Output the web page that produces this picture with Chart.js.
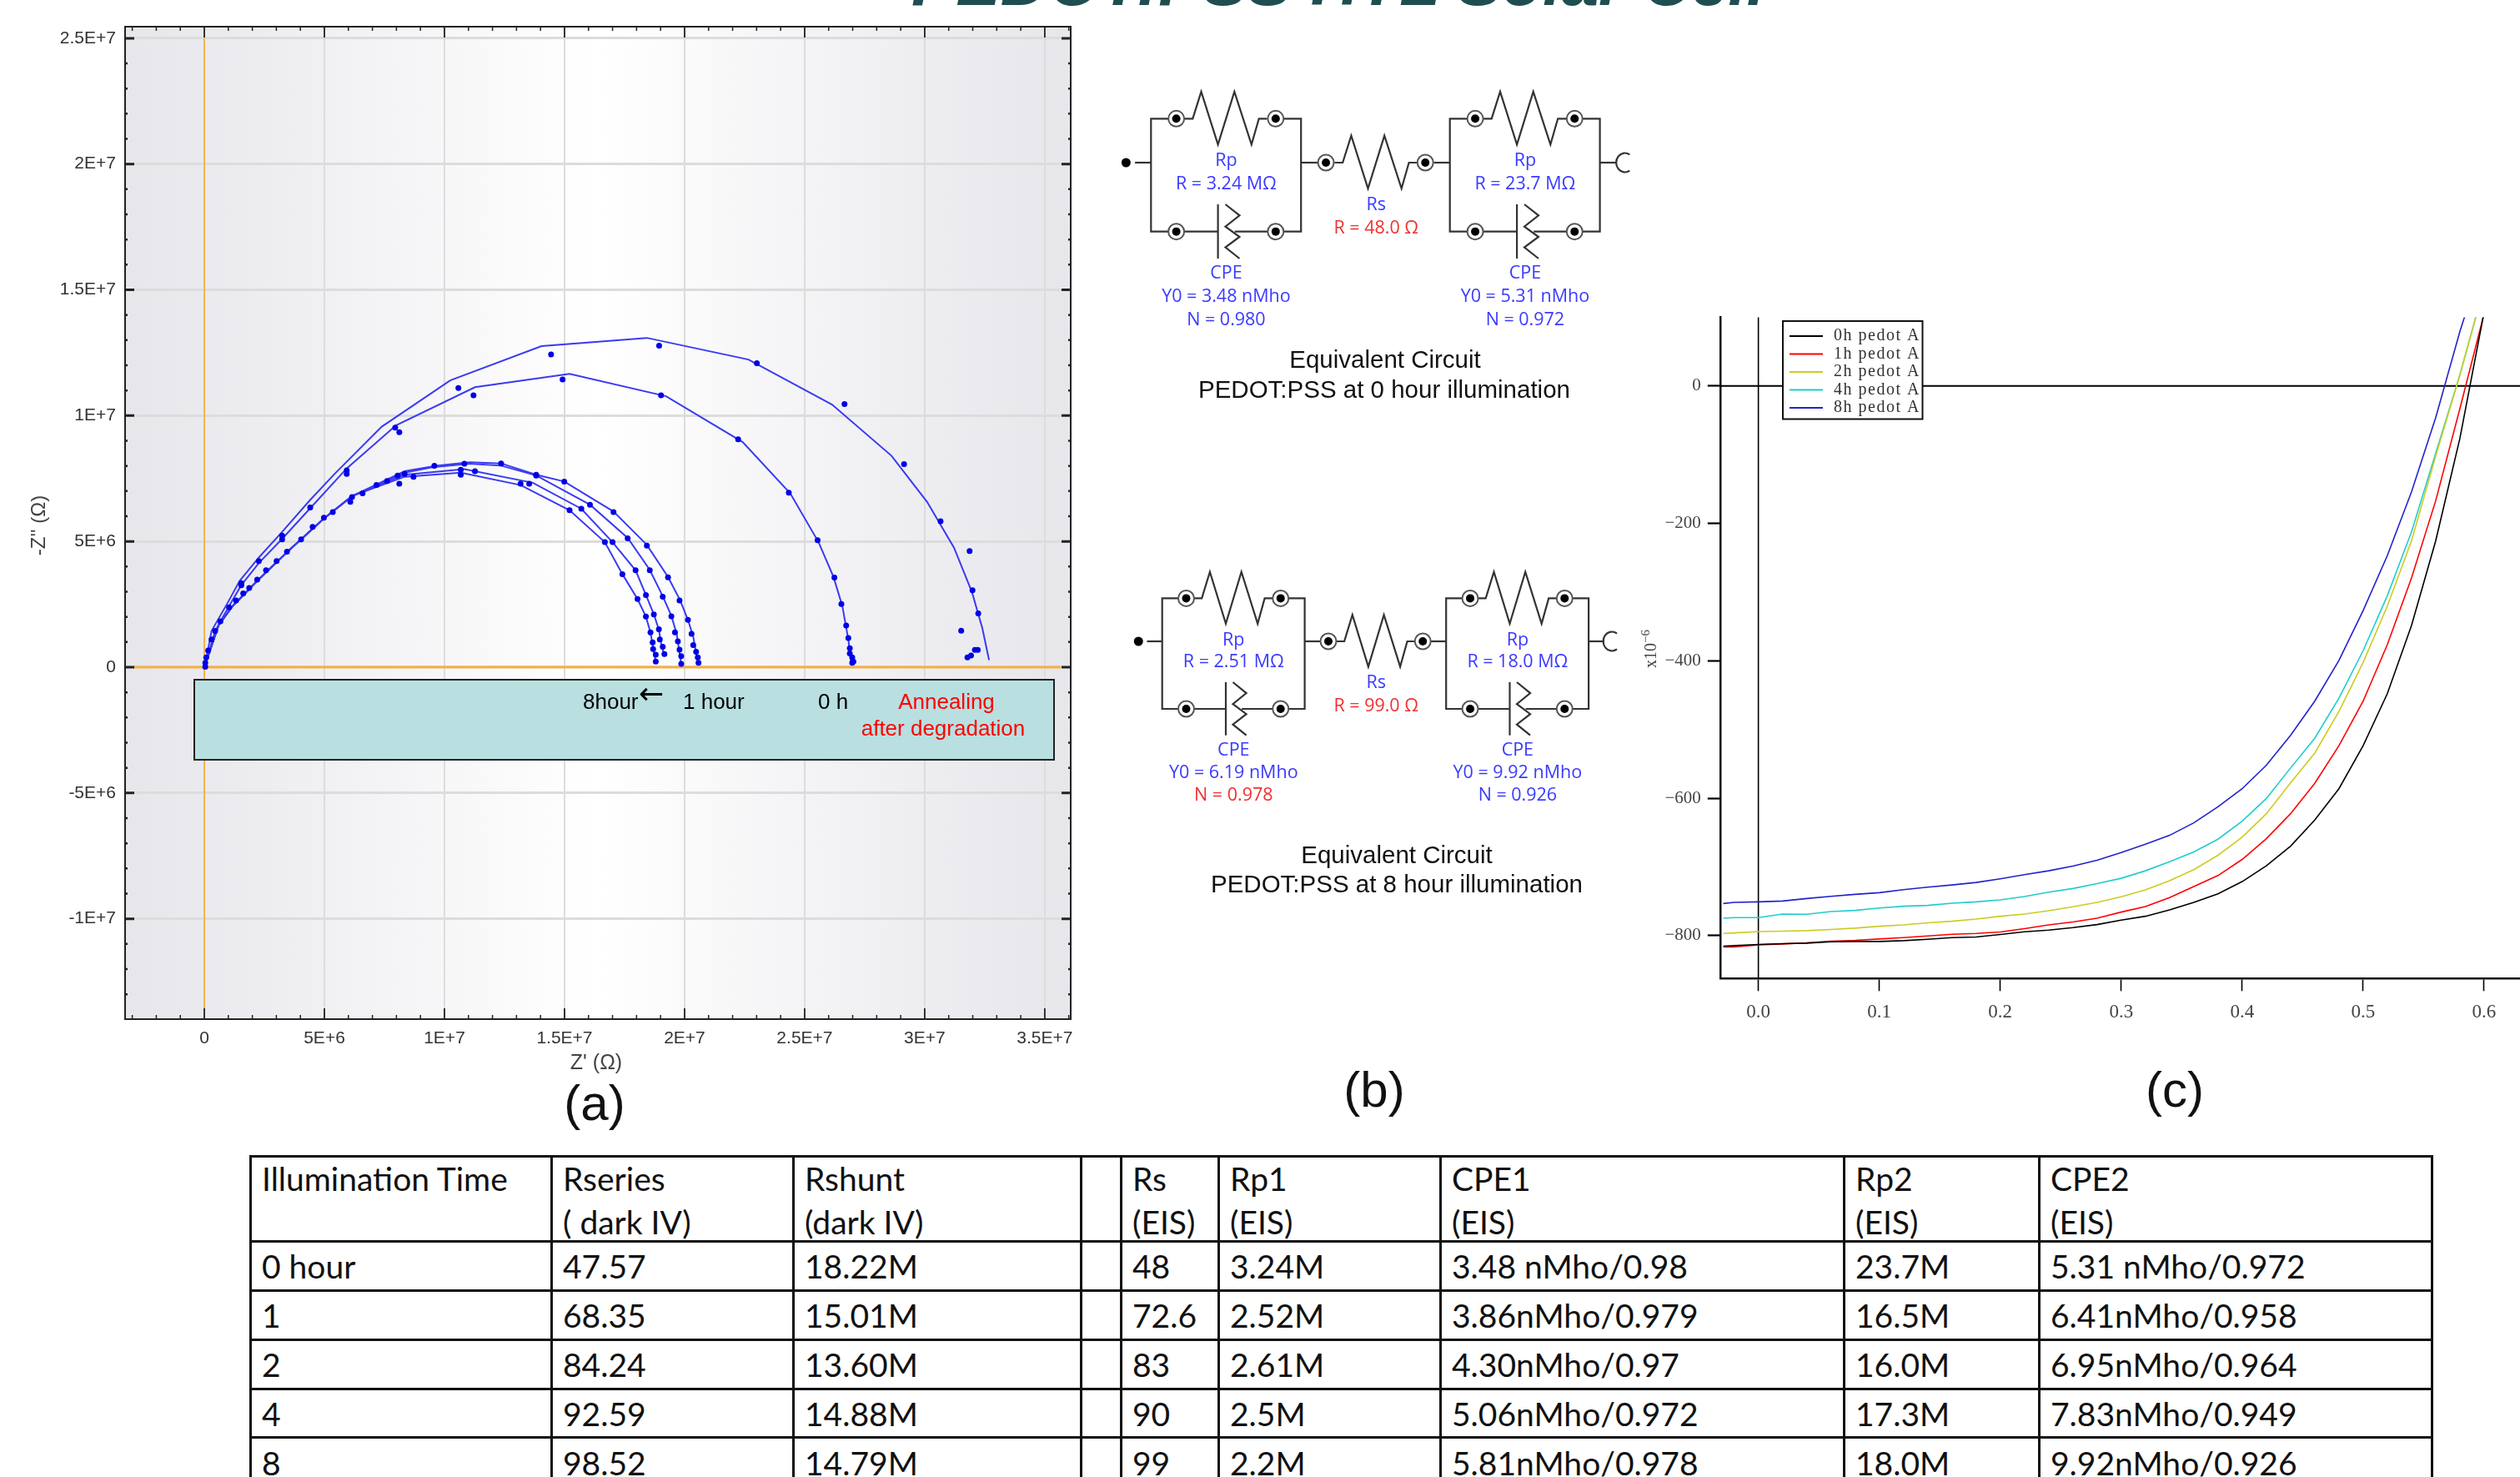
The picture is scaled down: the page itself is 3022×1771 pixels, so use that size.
<!DOCTYPE html>
<html><head><meta charset="utf-8">
<script src="https://cdn.jsdelivr.net/npm/chart.js@4"></script>
<style>
html,body{margin:0;padding:0;background:#fff;}
#page{position:relative;width:3022px;height:1771px;overflow:hidden;background:#fff;font-family:"Liberation Sans",Arial,sans-serif;}
canvas{position:absolute;display:block;}
.abs{position:absolute;white-space:nowrap;}
#title{left:1605px;top:-61px;transform:translateX(-50%);font:italic bold 80px/80px "Liberation Sans";color:#1f4e50;}
.panel{font:60px/64px "Liberation Sans";color:#111;transform:translate(-50%,-50%);}
#box{left:232px;top:814px;width:1029px;height:94px;background:#b9dfe1;border:2px solid #222;}
.boxt{font:26px/30px "Liberation Sans";transform:translateY(-50%);}
.ctr{transform:translate(-50%,-50%);}
#axa{left:715px;top:1273px;font:25px "Liberation Sans";color:#444;}
#aya{left:46px;top:630px;font:24px "Liberation Sans";color:#444;transform:translate(-50%,-50%) rotate(-90deg);}
#cy{left:1979px;top:778px;font:20px "Liberation Serif";color:#444;transform:translate(-50%,-50%) rotate(-90deg);}
#cy sup{font-size:15px;line-height:0;}
#tbl{position:absolute;left:299px;top:1385px;border-collapse:collapse;table-layout:fixed;width:2616px;font:39px/52px Lato;color:#111;}
#tbl td{border:3px solid #111;padding:0 0 0 12px;overflow:hidden;white-space:nowrap;}
#tbl .h{height:98px;margin-top:-3px;line-height:52px;}
svg{position:absolute;left:0;top:0;}
</style></head><body>
<div id="page">
<canvas id="nyquist" width="1320" height="1320" style="left:0;top:0"></canvas>
<canvas id="iv" width="1072" height="880" style="left:1950px;top:360px"></canvas>
<svg id="circ" width="3022" height="1200"></svg>
<div id="title" class="abs">PEDOT:PSS HTL Solar Cell</div>
<div id="box" class="abs"></div>
<div class="abs boxt" style="left:699px;top:841px">8hour</div>
<div class="abs boxt" style="left:766px;top:832px;font:36px/36px 'DejaVu Sans'">←</div>
<div class="abs boxt" style="left:819px;top:841px">1 hour</div>
<div class="abs boxt" style="left:981px;top:841px">0 h</div>
<div class="abs boxt ctr" style="left:1135px;top:841px;color:#f00;transform:translate(-50%,-50%)">Annealing</div>
<div class="abs boxt ctr" style="left:1131px;top:873px;color:#f00;transform:translate(-50%,-50%)">after degradation</div>
<div id="axa" class="abs ctr">Z' (Ω)</div>
<div id="aya" class="abs">-Z'' (Ω)</div>
<div id="cy" class="abs">x10<sup>−6</sup></div>
<div class="abs panel" style="left:713px;top:1323px">(a)</div>
<div class="abs panel" style="left:1648px;top:1307px">(b)</div>
<div class="abs panel" style="left:2608px;top:1307px">(c)</div>
<table id="tbl"></table>
</div>
<script>
// ---------- Panel (a): Nyquist plot, values in units of 1E6 ohm ----------
const zTicksX=[0,5,10,15,20,25,30,35];
const zTickLabelsX=['0','5E+6','1E+7','1.5E+7','2E+7','2.5E+7','3E+7','3.5E+7'];
const zTicksY=[-10,-5,0,5,10,15,20,25];
const zTickLabelsY=['-1E+7','-5E+6','0','5E+6','1E+7','1.5E+7','2E+7','2.5E+7'];

const fitAnnealX=[0.04,0.30,0.96,1.47,2.27,3.22,4.39,5.42,7.39,10.24,14.04,18.43,22.66,26.14,28.62,30.1,31.22,31.97,32.4,32.68];
const fitAnnealY=[0.11,1.44,2.54,3.43,4.36,5.36,6.63,7.68,9.56,11.40,12.76,13.09,12.23,10.44,8.40,6.57,4.75,2.98,1.55,0.28];
const fit0hX=[0.04,0.45,1.03,1.54,2.27,3.22,4.39,5.93,7.98,11.27,15.21,19.23,22.42,24.40,25.58,26.20,26.57,26.82,26.94];
const fit0hY=[0.11,1.44,2.43,3.26,4.14,5.08,6.30,7.90,9.61,11.13,11.66,10.77,8.95,6.91,4.97,3.59,2.43,1.10,0.17];
const fit1hX=[0.04,0.59,1.18,2.20,3.52,4.98,6.15,8.34,9.66,11.05,12.36,13.82,14.99,17.04,18.43,19.31,19.82,20.14,20.36,20.55];
const fit1hY=[0.11,1.66,2.43,3.43,4.64,5.91,6.80,7.79,8.01,8.15,8.10,7.65,7.38,6.19,4.86,3.59,2.65,1.88,1.22,0.17];
const fit2hX=[0.04,0.59,1.18,2.20,3.52,4.98,6.15,8.34,9.58,11.05,12.36,13.82,16.06,17.63,18.55,19.09,19.45,19.67,19.86];
const fit2hY=[0.11,1.66,2.43,3.43,4.64,5.91,6.80,7.73,7.96,8.09,8.01,7.62,6.46,5.14,3.87,2.82,2.04,1.33,0.13];
const fit4hX=[0.04,0.59,1.18,2.20,3.52,4.98,6.15,8.34,10.83,13.68,15.70,17.00,17.96,18.39,18.72,18.93,19.04,19.16];
const fit4hY=[0.11,1.66,2.43,3.43,4.64,5.91,6.80,7.65,7.87,7.33,6.30,4.97,3.85,2.87,2.10,1.49,0.83,0.50];
const fit8hX=[0.04,0.59,1.18,2.20,3.52,4.98,6.15,8.34,10.68,13.17,15.21,16.68,17.41,18.04,18.39,18.58,18.69,18.80];
const fit8hY=[0.11,1.66,2.43,3.43,4.64,5.91,6.80,7.57,7.73,7.24,6.24,4.97,3.70,2.71,2.01,1.38,0.77,0.22];

const dotAnnealX=[1.54,2.27,3.24,4.41,5.93,7.95,10.58,14.44,18.94,23.01,26.66,29.14,30.66,31.87,31.99,32.23,31.52,32.21,32.09,31.93,31.78];
const dotAnnealY=[3.34,4.22,5.23,6.35,7.82,9.52,11.10,12.43,12.78,12.08,10.46,8.07,5.80,4.62,3.06,2.14,1.45,0.69,0.69,0.46,0.39];
const dot0hX=[1.54,3.24,5.93,8.12,11.21,14.92,19.02,22.23,24.34,25.54,26.24,26.53,26.73,26.82,26.88,26.88,26.98,27.03,26.98];
const dot0hY=[3.26,5.08,7.68,9.34,10.81,11.44,10.81,9.06,6.94,5.05,3.56,2.51,1.66,1.16,0.75,0.55,0.39,0.22,0.17];
const dot1hX=[9.58,10.83,12.36,13.82,14.99,17.04,18.43,19.31,19.79,20.14,20.29,20.36,20.48,20.55,20.58];
const dot1hY=[8.01,8.09,8.10,7.65,7.38,6.17,4.83,3.57,2.65,1.88,1.33,0.88,0.61,0.39,0.17];
const dot2hX=[8.71,11.27,13.82,16.06,17.63,18.55,19.09,19.45,19.60,19.72,19.79,19.86,19.86];
const dot2hY=[7.57,7.79,7.62,6.46,5.12,3.85,2.80,2.02,1.38,1.03,0.70,0.44,0.13];
const dot4hX=[10.68,13.53,15.70,17.00,17.96,18.39,18.72,18.93,18.97,19.09,19.16];
const dot4hY=[7.85,7.29,6.30,4.97,3.85,2.87,2.10,1.51,1.10,0.81,0.52];
const dot8hX=[0.04,0.04,0.08,0.16,0.30,0.45,0.67,1.03,1.32,1.62,1.87,2.20,2.57,3.01,3.44,4.03,4.51,4.98,5.35,6.08,6.15,6.59,7.17,7.61,8.05,8.12,8.34,10.68,13.17,15.21,16.68,17.41,18.04,18.39,18.58,18.67,18.69,18.80,18.80];
const dot8hY=[0.02,0.17,0.39,0.66,1.10,1.44,1.82,2.38,2.65,2.93,3.15,3.48,3.85,4.22,4.59,5.08,5.58,5.94,6.17,6.57,6.76,6.91,7.24,7.40,7.62,7.29,7.68,7.65,7.29,6.24,4.97,3.70,2.71,2.01,1.38,0.99,0.72,0.50,0.22];

// ---------- Panel (c): I-V curves, current in units of 1E-6 ----------
const voltage=[-0.029,-0.02,0,0.02,0.04,0.06,0.08,0.10,0.12,0.14,0.16,0.18,0.20,0.22,0.24,0.26,0.28,0.30,0.32,0.34,0.36,0.38,0.40,0.42,0.44,0.46,0.48,0.50,0.52,0.54,0.56,0.58,0.60];
const current0h=[-815.3,-814.5,-812.9,-811.7,-810.9,-808.9,-808.5,-808.5,-807.3,-805.2,-802.8,-802,-798.4,-794.3,-791.9,-788.3,-783.9,-777.4,-771.8,-762.5,-751.6,-739.1,-721.3,-698.4,-669.7,-631.8,-586.2,-523.5,-447.9,-348.5,-225.4,-76.3,107.3];
const current1h=[-816.5,-816.5,-813.3,-812.1,-810.5,-808,-806.8,-804.8,-802.8,-800.4,-798,-796.8,-794.7,-789.9,-784.3,-780.2,-774.6,-765.7,-757.6,-744.7,-728.6,-712.5,-689.1,-658.8,-622.5,-578.2,-523.5,-458.7,-376.6,-279.4,-167,-33,105];
const current2h=[-796.8,-796,-794,-793.5,-792.7,-791.1,-789.1,-786.3,-784.3,-781.4,-779,-775.8,-771.8,-768.5,-763.7,-758,-751.6,-743.5,-733.4,-720.1,-704,-683,-656.8,-622.5,-577.6,-534.3,-473.8,-402.5,-320.4,-225.4,-102.2,16.2,144];
const current4h=[-774.6,-773.8,-773.8,-768.5,-768.9,-764.9,-763.3,-759.7,-757.2,-756,-752.8,-750.8,-748,-743.1,-736.7,-731.4,-724.2,-716.5,-705.6,-692.3,-678.2,-659.6,-633.4,-600.4,-556,-512.7,-454.4,-385.3,-305.3,-212.4,-97.9,16.2,144];
const current8h=[-753.2,-751.6,-750.8,-749.6,-746,-742.7,-739.9,-737.5,-733,-729.4,-726.2,-722.6,-717.3,-711.3,-705.6,-698.8,-690.3,-679,-666.9,-654,-635.8,-612.5,-586.2,-552,-508.4,-458.7,-399.5,-326.9,-247,-154.1,-46,79.2,190];
const ivLabels=['0h pedot A','1h pedot A','2h pedot A','4h pedot A','8h pedot A'];
const ivColors=['#000000','#ff0000','#cccc22','#22cccc','#2222cc'];
const ivTicksX=[0,0.1,0.2,0.3,0.4,0.5,0.6];
const ivTickLabelsX=['0.0','0.1','0.2','0.3','0.4','0.5','0.6'];
const ivTicksY=[-800,-600,-400,-200,0];
const ivTickLabelsY=['−800','−600','−400','−200','0'];

// ---------- Table ----------
const tableHeader=[['Illumination Time',''],['Rseries','( dark IV)'],['Rshunt','(dark IV)'],['',''],['Rs','(EIS)'],['Rp1','(EIS)'],['CPE1','(EIS)'],['Rp2','(EIS)'],['CPE2','(EIS)']];
const tableRows=[
['0 hour','47.57','18.22M','','48','3.24M','3.48 nMho/0.98','23.7M','5.31 nMho/0.972'],
['1','68.35','15.01M','','72.6','2.52M','3.86nMho/0.979','16.5M','6.41nMho/0.958'],
['2','84.24','13.60M','','83','2.61M','4.30nMho/0.97','16.0M','6.95nMho/0.964'],
['4','92.59','14.88M','','90','2.5M','5.06nMho/0.972','17.3M','7.83nMho/0.949'],
['8','98.52','14.79M','','99','2.2M','5.81nMho/0.978','18.0M','9.92nMho/0.926']];
const tableCols=[361,290,345,48,117,266,484,234,471];
const tableHeights=[59,59,59,58,60];

// ---------- Circuit labels ----------
const circuit0=['R = 3.24 MΩ','Y0 = 3.48 nMho','N = 0.980','R = 48.0 Ω','R = 23.7 MΩ','Y0 = 5.31 nMho','N = 0.972'];
const circuit8=['R = 2.51 MΩ','Y0 = 6.19 nMho','N = 0.978','R = 99.0 Ω','R = 18.0 MΩ','Y0 = 9.92 nMho','N = 0.926'];

Chart.defaults.animation=false;
const xy=(xs,ys)=>xs.map((x,i)=>({x,y:ys[i]}));
const fit=(l,x,y)=>({label:l,data:xy(x,y),showLine:true,borderColor:'#3a3af2',borderWidth:2,pointRadius:0,tension:0,order:2});
const dots=(l,x,y)=>({label:l,data:xy(x,y),showLine:false,pointRadius:3.5,pointBackgroundColor:'#0000e6',pointBorderWidth:0,order:1});

const nyquistDecor={id:'nyquistDecor',
 beforeDraw(c){const a=c.chartArea,g=c.ctx.createLinearGradient(a.left,0,a.right,0);
  g.addColorStop(0,'#e6e6eb');g.addColorStop(0.5,'#ffffff');g.addColorStop(1,'#e6e6eb');
  c.ctx.fillStyle=g;c.ctx.fillRect(a.left,a.top,a.right-a.left,a.bottom-a.top);},
 beforeDatasetsDraw(c){const a=c.chartArea,x=c.scales.x,y=c.scales.y,k=c.ctx;k.save();
  k.strokeStyle='#f4b040';
  k.lineWidth=3;k.beginPath();k.moveTo(a.left+10,y.getPixelForValue(0));k.lineTo(a.right-12,y.getPixelForValue(0));k.stroke();
  k.lineWidth=1.8;k.beginPath();k.moveTo(x.getPixelForValue(0),y.getPixelForValue(25));k.lineTo(x.getPixelForValue(0),a.bottom-13);k.stroke();
  k.strokeStyle='#222';
  for(let v=-3;v<=36;v++){const p=x.getPixelForValue(v),M=v%5===0,L=M?13:5;k.lineWidth=M?1.8:1.5;
   k.beginPath();k.moveTo(p,a.top);k.lineTo(p,a.top+L);k.moveTo(p,a.bottom);k.lineTo(p,a.bottom-L);k.stroke();}
  for(let v=-13;v<=25;v++){const p=y.getPixelForValue(v),M=v%5===0,L=M?11:3;k.lineWidth=M?3:2.5;
   k.beginPath();k.moveTo(a.left,p);k.lineTo(a.left+L,p);k.moveTo(a.right,p);k.lineTo(a.right-L,p);k.stroke();}
  k.lineWidth=2;k.strokeRect(a.left,a.top,a.right-a.left,a.bottom-a.top);
  k.restore();}
};
new Chart(document.getElementById('nyquist'),{type:'scatter',
 data:{datasets:[fit('Anneal fit',fitAnnealX,fitAnnealY),fit('0 h fit',fit0hX,fit0hY),fit('1 h fit',fit1hX,fit1hY),fit('2 h fit',fit2hX,fit2hY),fit('4 h fit',fit4hX,fit4hY),fit('8 h fit',fit8hX,fit8hY),
  dots('Anneal',dotAnnealX,dotAnnealY),dots('0 h',dot0hX,dot0hY),dots('1 h',dot1hX,dot1hY),dots('2 h',dot2hX,dot2hY),dots('4 h',dot4hX,dot4hY),dots('8 h',dot8hX,dot8hY)]},
 plugins:[nyquistDecor],
 options:{responsive:false,layout:{padding:{left:0,right:36,top:32,bottom:0}},
  plugins:{legend:{display:false},tooltip:{enabled:false}},
  scales:{
   x:{type:'linear',min:-3.3,max:36.08,afterBuildTicks(s){s.ticks=zTicksX.map(v=>({value:v}));},afterFit(s){s.height=98;},
    grid:{color:'#dcdcdc',lineWidth:2,drawTicks:false},border:{display:false},
    ticks:{autoSkip:false,maxRotation:0,padding:11,color:'#333',font:{family:'Liberation Sans',size:21},callback:v=>zTickLabelsX[zTicksX.indexOf(v)]}},
   y:{type:'linear',min:-13.99,max:25.46,afterBuildTicks(s){s.ticks=zTicksY.map(v=>({value:v}));},afterFit(s){s.width=150;},
    grid:{color:'#dcdcdc',lineWidth:3,drawTicks:false},border:{display:false},
    ticks:{padding:11,color:'#333',font:{family:'Liberation Sans',size:21},callback:v=>zTickLabelsY[zTicksY.indexOf(v)]}}
  }}});

const ivDecor={id:'ivDecor',
 beforeDatasetsDraw(c){const a=c.chartArea,x=c.scales.x,y=c.scales.y,k=c.ctx;k.save();k.strokeStyle='#000';
  k.lineWidth=2;k.beginPath();k.moveTo(a.left,y.getPixelForValue(0));k.lineTo(a.right,y.getPixelForValue(0));k.stroke();
  k.lineWidth=1.6;k.beginPath();k.moveTo(x.getPixelForValue(0),a.top);k.lineTo(x.getPixelForValue(0),a.bottom);k.stroke();k.restore();},
 afterDraw(c){const k=c.ctx;k.save();const L=188,T=25,W=167.5,H=117.5;
  k.fillStyle='#fff';k.fillRect(L,T,W,H);k.strokeStyle='#111';k.lineWidth=2;k.strokeRect(L,T,W,H);
  k.font='20px "Liberation Serif"';k.textBaseline='middle';if('letterSpacing' in k)k.letterSpacing='1.5px';
  c.data.datasets.forEach((d,i)=>{const py=T+18+i*21.5;k.strokeStyle=d.borderColor;k.lineWidth=2;k.beginPath();k.moveTo(L+8,py);k.lineTo(L+48,py);k.stroke();
   k.fillStyle='#333';k.fillText(d.label,L+61,py);});
  k.restore();}
};
const ivSets=[current0h,current1h,current2h,current4h,current8h];
new Chart(document.getElementById('iv'),{type:'scatter',
 data:{datasets:ivSets.map((s,i)=>({label:ivLabels[i],data:xy(voltage,s),showLine:true,borderColor:ivColors[i],borderWidth:1.6,pointRadius:0,tension:0}))},
 plugins:[ivDecor],
 options:{responsive:false,layout:{padding:{left:0,right:0,top:18,bottom:0}},
  plugins:{legend:{display:false},tooltip:{enabled:false}},
  scales:{
   x:{type:'linear',min:-0.0316,max:0.6297,afterBuildTicks(s){s.ticks=ivTicksX.map(v=>({value:v}));},afterFit(s){s.height=66.7;},
    grid:{drawOnChartArea:false,drawTicks:true,tickLength:15,tickColor:'#000',tickWidth:1.6},border:{color:'#111',width:2.5},
    ticks:{autoSkip:false,maxRotation:0,padding:12,color:'#444',font:{family:'Liberation Serif',size:23},callback:v=>ivTickLabelsX[ivTicksX.indexOf(v)]}},
   y:{type:'linear',min:-862.4,max:99.8,afterBuildTicks(s){s.ticks=ivTicksY.map(v=>({value:v}));},afterFit(s){s.width=112.8;},
    grid:{drawOnChartArea:false,drawTicks:true,tickLength:15,tickColor:'#000',tickWidth:2.2},border:{color:'#111',width:2.5},
    ticks:{padding:8,color:'#444',font:{family:'Liberation Serif',size:21},callback:v=>ivTickLabelsY[ivTicksY.indexOf(v)]}}
  }}});

// ---------- circuits as SVG ----------
function circuit(ox,oy,sx,sy,labels,redIdx){
 const P=(x,y)=>(ox+sx*x).toFixed(1)+','+(oy+sy*y).toFixed(1);
 const line=pts=>`<polyline points="${pts.map(p=>P(p[0],p[1])).join(' ')}" fill="none" stroke="#333" stroke-width="2.2"/>`;
 const node=(x,y)=>`<circle cx="${ox+sx*x}" cy="${oy+sy*y}" r="9.5" fill="#fff" stroke="#555" stroke-width="2"/><circle cx="${ox+sx*x}" cy="${oy+sy*y}" r="5" fill="#000"/>`;
 const R=(x,y)=>line([[x,y],[x+22,y],[x+45,y-97],[x+90,y+93],[x+134,y-97],[x+180,y+93],[x+200,y],[x+222,y]]);
 const txt=(x,y,t,c)=>`<text x="${ox+sx*x}" y="${oy+sy*y}" text-anchor="middle" dominant-baseline="central" font-family="Open Sans" font-size="21.5" fill="${c}">${t}</text>`;
 let s='';
 const block=dx=>{
  s+=line([[225+dx,187],[135+dx,187],[135+dx,593],[315+dx,593]]);
  s+=line([[448+dx,187],[538+dx,187],[538+dx,593],[360+dx,593]]);
  s+=R(225+dx,187);
  s+=line([[315+dx,495],[315+dx,690]]);
  s+=line([[335+dx,495],[373+dx,535],[335+dx,575],[373+dx,612],[335+dx,650],[373+dx,690]]);
  [[203,187],[470,187],[203,593],[470,593]].forEach(n=>s+=node(n[0]+dx,n[1]));
 };
 block(0);block(803);
 s+=line([[92,345],[135,345]]);
 s+=line([[538,345],[583,345]]);
 s+=R(628,345);
 s+=line([[895,345],[938,345]]);
 s+=node(605,345)+node(872,345);
 s+=line([[1341,345],[1385,345]]);
 s+=`<circle cx="${ox+sx*68}" cy="${oy+sy*345}" r="5.5" fill="#000"/>`;
 s+=`<path d="M ${ox+sx*1421} ${oy+sy*316} A 10.5 11.5 0 1 0 ${ox+sx*1421} ${oy+sy*374}" fill="none" stroke="#333" stroke-width="2.2"/>`;
 const b='#3a3aff',r='#f03030',col=i=>redIdx.includes(i)?r:b;
 s+=txt(337,333,'Rp',b)+txt(337,415,labels[0],col(0))+txt(337,738,'CPE',b)+txt(337,822,labels[1],col(1))+txt(337,905,labels[2],col(2));
 s+=txt(740,490,'Rs',b)+txt(740,575,labels[3],col(3));
 s+=txt(1140,333,'Rp',b)+txt(1140,415,labels[4],col(4))+txt(1140,738,'CPE',b)+txt(1140,822,labels[5],col(5))+txt(1140,905,labels[6],col(6));
 return s;
}
const capStyle='font-family="Liberation Sans" font-size="29.5" fill="#111" text-anchor="middle" dominant-baseline="central"';
document.getElementById('circ').innerHTML=
 circuit(1320,80,0.4464,0.3333,circuit0,[3])+
 circuit(1336.4,656.3,0.4241,0.3267,circuit8,[2,3])+
 `<text x="1661" y="430" ${capStyle}>Equivalent Circuit</text><text x="1660" y="466" ${capStyle}>PEDOT:PSS at 0 hour illumination</text>`+
 `<text x="1675" y="1024" ${capStyle}>Equivalent Circuit</text><text x="1675" y="1059" ${capStyle}>PEDOT:PSS at 8 hour illumination</text>`;

// ---------- table ----------
let html='<colgroup>'+tableCols.map(w=>`<col style="width:${w}px">`).join('')+'</colgroup>';
html+='<tr style="height:102px">'+tableHeader.map(h=>`<td><div class="h">${h[0]||'&nbsp;'}<br>${h[1]||'&nbsp;'}</div></td>`).join('')+'</tr>';
tableRows.forEach((r,i)=>{html+=`<tr style="height:${tableHeights[i]}px">`+r.map(c=>`<td>${c||'&nbsp;'}</td>`).join('')+'</tr>';});
document.getElementById('tbl').innerHTML=html;
</script>
</body></html>
